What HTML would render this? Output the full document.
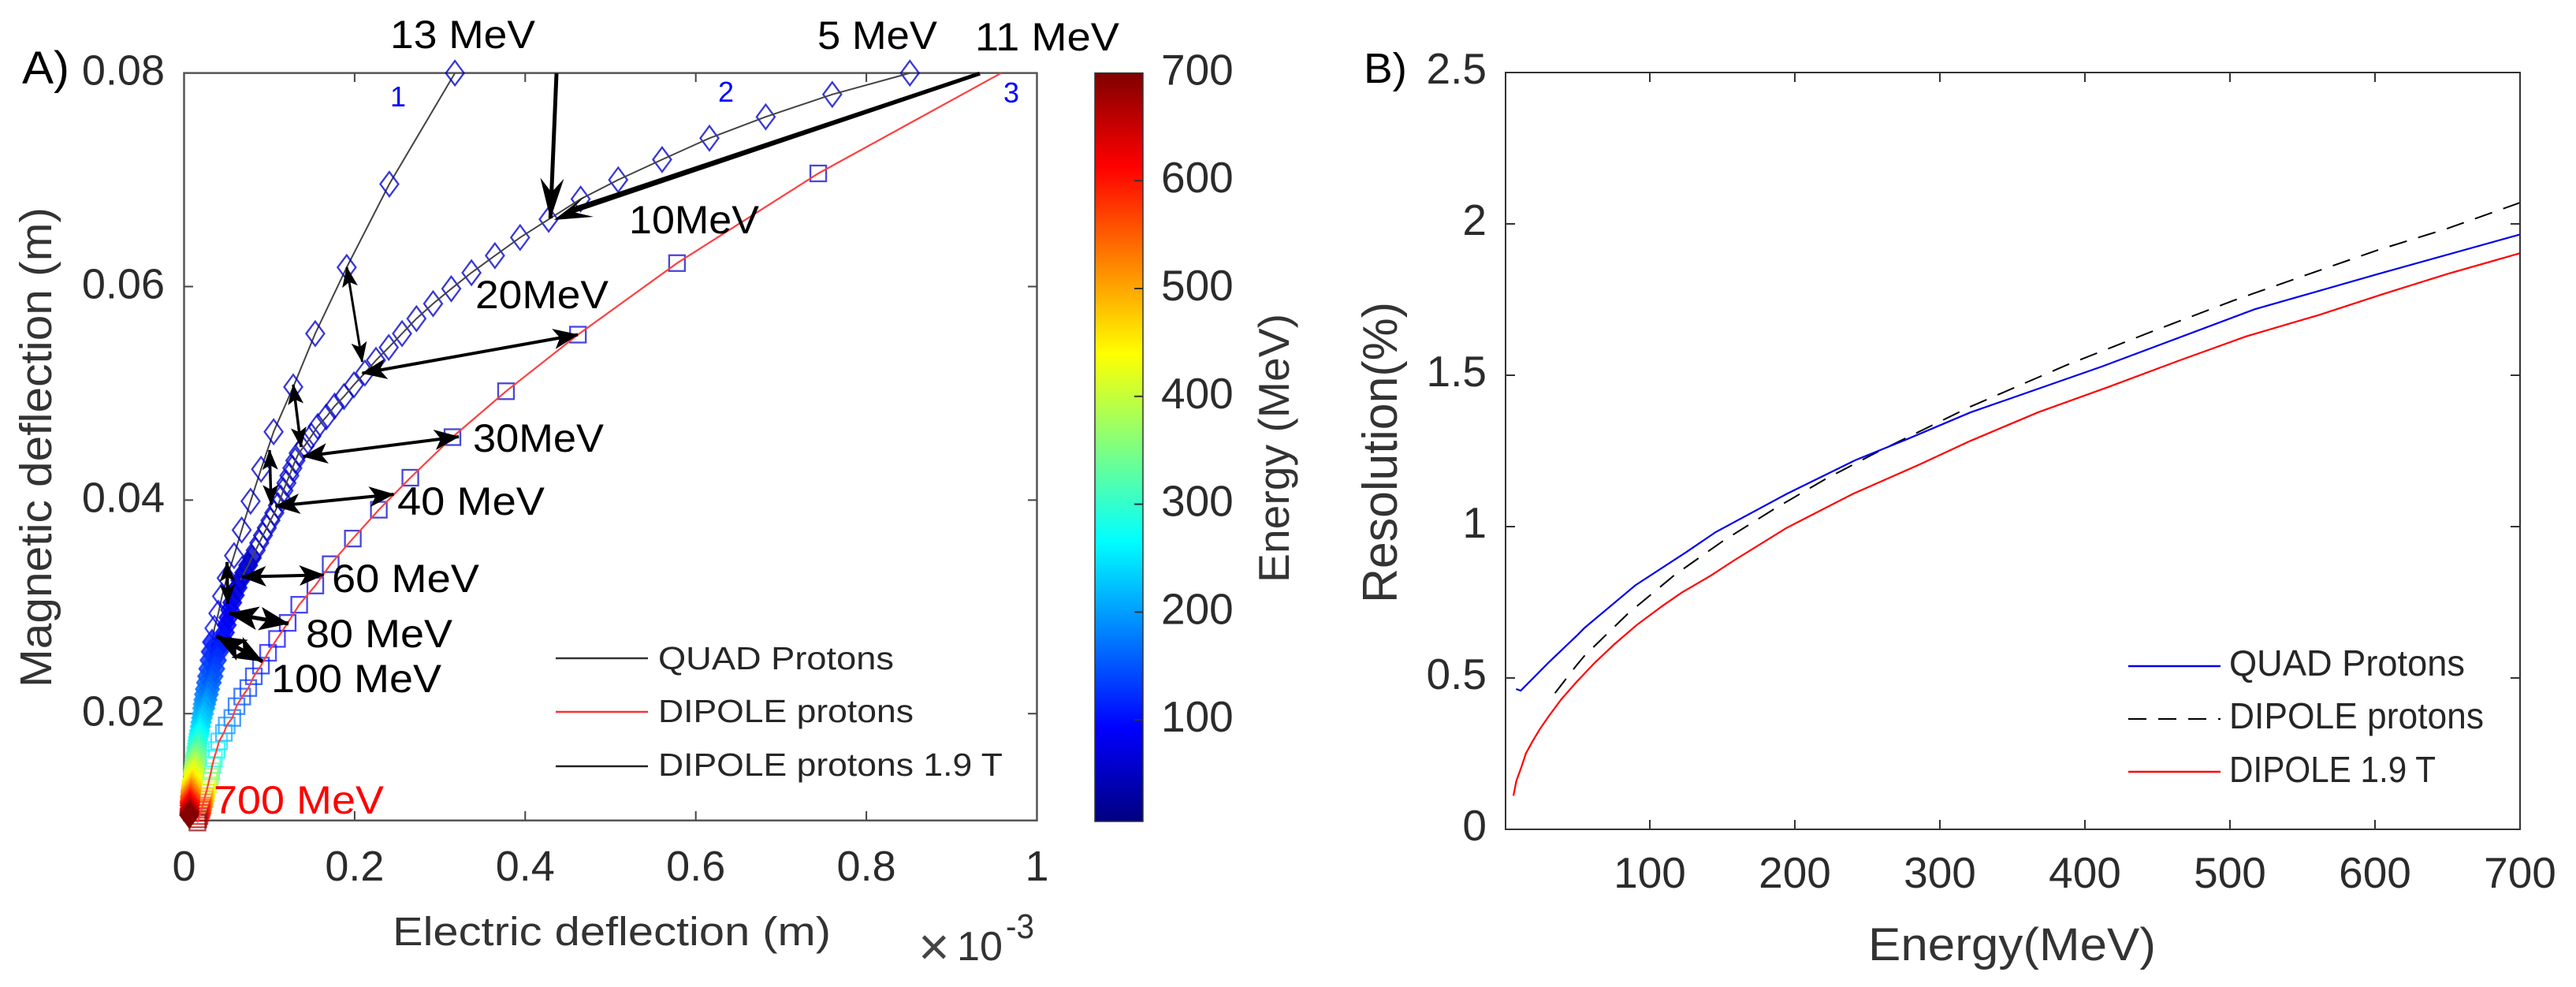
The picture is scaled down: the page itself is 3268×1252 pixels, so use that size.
<!DOCTYPE html>
<html lang="en">
<head>
<meta charset="utf-8">
<title>Deflection and resolution charts</title>
<style>
html,body{margin:0;padding:0;background:#fff;width:3268px;height:1252px;overflow:hidden}
svg{display:block}
text{font-family:"Liberation Sans",sans-serif}
.an{font-size:50px;fill:#000}
.blue{font-size:36px;fill:#0000ff}
.lab{fill:#333}
.leg{fill:#262626}
</style>
</head>
<body>
<svg id="fig" xmlns="http://www.w3.org/2000/svg" width="3268" height="1252" viewBox="0 0 3268 1252">
<defs>
<linearGradient id="jet" x1="0" y1="1" x2="0" y2="0">
<stop offset="0" stop-color="#000080"/><stop offset="0.125" stop-color="#0000ff"/><stop offset="0.375" stop-color="#00ffff"/><stop offset="0.625" stop-color="#ffff00"/><stop offset="0.875" stop-color="#ff0000"/><stop offset="1" stop-color="#800000"/>
</linearGradient>
<marker id="headL" markerUnits="userSpaceOnUse" markerWidth="32" markerHeight="26" viewBox="0 0 32 26" refX="31" refY="13" orient="auto-start-reverse"><path d="M32 13 L0 0 L8 13 L0 26 Z" fill="#000"/></marker>
<marker id="headS" markerUnits="userSpaceOnUse" markerWidth="26" markerHeight="20" viewBox="0 0 26 20" refX="25" refY="10" orient="auto-start-reverse"><path d="M26 10 L0 0 L6 10 L0 20 Z" fill="#000"/></marker>
<marker id="headB" markerUnits="userSpaceOnUse" markerWidth="38" markerHeight="30" viewBox="0 0 38 30" refX="37" refY="15" orient="auto-start-reverse"><path d="M38 15 L0 0 L9 15 L0 30 Z" fill="#000"/></marker>
<marker id="headT" markerUnits="userSpaceOnUse" markerWidth="52" markerHeight="30" viewBox="0 0 52 30" refX="51" refY="15" orient="auto-start-reverse"><path d="M52 15 L0 0 L18 15 L0 30 Z" fill="#000"/></marker>
</defs>

<g id="panelA">
<rect x="233.5" y="92.6" width="1082" height="948" fill="#fff"/>
<path d="M233.5 92.6H1315.5V1040.7H233.5Z" fill="none" stroke="#555" stroke-width="2.5"/>
<g id="ticksA"></g>
<g id="marksA"></g>
</g>

<g stroke="#000" fill="none">
<line x1="706" y1="93" x2="698.3" y2="277" stroke-width="5" marker-end="url(#headT)"/>
<polygon points="1244,95.5 1242,91 721.8,264.5 724.2,271.5" fill="#000" stroke="none"/>
<polygon points="702.7,279 753,275 723,268 743,248" fill="#000" stroke="none"/>
<line x1="440" y1="339" x2="459.5" y2="459" stroke-width="3" marker-start="url(#headS)" marker-end="url(#headS)"/>
<line x1="459.5" y1="473.5" x2="733" y2="424.5" stroke-width="4" marker-start="url(#headL)" marker-end="url(#headL)"/>
<line x1="342" y1="571" x2="344" y2="640" stroke-width="3.5" marker-start="url(#headS)" marker-end="url(#headS)"/>
<line x1="372" y1="488" x2="382" y2="567" stroke-width="3.5" marker-start="url(#headS)" marker-end="url(#headS)"/>
<line x1="384.5" y1="579" x2="582" y2="554" stroke-width="4" marker-start="url(#headL)" marker-end="url(#headL)"/>
<line x1="349.4" y1="642" x2="499.5" y2="627" stroke-width="4" marker-start="url(#headL)" marker-end="url(#headL)"/>
<line x1="288" y1="713" x2="289" y2="766" stroke-width="4" marker-start="url(#headS)" marker-end="url(#headS)"/>
<line x1="306.7" y1="731.7" x2="410.7" y2="729.3" stroke-width="4" marker-start="url(#headL)" marker-end="url(#headL)"/>
<line x1="290.7" y1="778" x2="366" y2="791" stroke-width="5" marker-start="url(#headB)" marker-end="url(#headB)"/>
<line x1="275" y1="807" x2="333" y2="839" stroke-width="5" marker-start="url(#headB)" marker-end="url(#headB)"/>
</g>

<g>
<text class="an" x="495" y="61" textLength="184" lengthAdjust="spacingAndGlyphs">13 MeV</text>
<text class="an" x="1037" y="62" textLength="152" lengthAdjust="spacingAndGlyphs">5 MeV</text>
<text class="an" x="1237" y="64" textLength="183" lengthAdjust="spacingAndGlyphs">11 MeV</text>
<text class="blue" x="495" y="135">1</text>
<text class="blue" x="911" y="129">2</text>
<text class="blue" x="1273" y="130">3</text>
<text class="an" x="798" y="296" textLength="165" lengthAdjust="spacingAndGlyphs">10MeV</text>
<text class="an" x="603" y="391" textLength="169" lengthAdjust="spacingAndGlyphs">20MeV</text>
<text class="an" x="600" y="573" textLength="166" lengthAdjust="spacingAndGlyphs">30MeV</text>
<text class="an" x="504" y="653" textLength="187" lengthAdjust="spacingAndGlyphs">40 MeV</text>
<text class="an" x="421" y="751" textLength="187" lengthAdjust="spacingAndGlyphs">60 MeV</text>
<text class="an" x="388" y="821" textLength="186" lengthAdjust="spacingAndGlyphs">80 MeV</text>
<text class="an" x="344" y="878" textLength="216" lengthAdjust="spacingAndGlyphs">100 MeV</text>
<text class="an" x="271" y="1032" textLength="216" lengthAdjust="spacingAndGlyphs" style="fill:#ff0000">700 MeV</text>
</g>

<g>
<line x1="705" x2="822" y1="835" y2="835" stroke="#333" stroke-width="2.5"/>
<line x1="705" x2="822" y1="903" y2="903" stroke="#ff3030" stroke-width="2.5"/>
<line x1="705" x2="822" y1="972" y2="972" stroke="#222" stroke-width="2.5"/>
<text class="leg" font-size="41" x="835" y="849" textLength="299" lengthAdjust="spacingAndGlyphs">QUAD Protons</text>
<text class="leg" font-size="41" x="835" y="916" textLength="324" lengthAdjust="spacingAndGlyphs">DIPOLE protons</text>
<text class="leg" font-size="41" x="835" y="984" textLength="437" lengthAdjust="spacingAndGlyphs">DIPOLE protons 1.9 T</text>
</g>

<text x="28" y="106" font-size="58" fill="#000" textLength="60" lengthAdjust="spacingAndGlyphs">A)</text>
<text class="lab" x="498" y="1199" font-size="51" textLength="556" lengthAdjust="spacingAndGlyphs">Electric deflection (m)</text>
<text class="lab" transform="translate(65,872) rotate(-90)" font-size="57" textLength="609" lengthAdjust="spacingAndGlyphs">Magnetic deflection (m)</text>
<g>
<text x="1165" y="1224" font-size="68" fill="#444">×</text>
<text x="1214" y="1218" font-size="52" fill="#333" textLength="58" lengthAdjust="spacingAndGlyphs">10</text>
<text x="1276" y="1190" font-size="44" fill="#333" textLength="36" lengthAdjust="spacingAndGlyphs">-3</text>
</g>

<g>
<rect x="1389" y="92.6" width="61" height="949.4" fill="url(#jet)" stroke="#333" stroke-width="1.5"/>
<g id="ticksC"></g>
<text class="lab" transform="translate(1635,739) rotate(-90)" font-size="55" textLength="341" lengthAdjust="spacingAndGlyphs">Energy (MeV)</text>
</g>

<g id="panelB">
<g id="linesB"></g>
<path d="M1910 92H3197V1052H1910Z" fill="none" stroke="#333" stroke-width="2"/>
<g id="ticksB"></g>
<text x="1730" y="105" font-size="54" fill="#000" textLength="55" lengthAdjust="spacingAndGlyphs">B)</text>
<text class="lab" x="2370" y="1218" font-size="58" textLength="365" lengthAdjust="spacingAndGlyphs">Energy(MeV)</text>
<text class="lab" transform="translate(1772,765) rotate(-90)" font-size="62" textLength="382" lengthAdjust="spacingAndGlyphs">Resolution(%)</text>
<g>
<line x1="2700" x2="2817" y1="845" y2="845" stroke="#0000ee" stroke-width="2.5"/>
<line x1="2700" x2="2817" y1="912" y2="912" stroke="#000" stroke-width="2" stroke-dasharray="23 15"/>
<line x1="2700" x2="2817" y1="979" y2="979" stroke="#ff0000" stroke-width="2.5"/>
<text class="leg" font-size="46" x="2828" y="857" textLength="299" lengthAdjust="spacingAndGlyphs">QUAD Protons</text>
<text class="leg" font-size="46" x="2828" y="924" textLength="323" lengthAdjust="spacingAndGlyphs">DIPOLE protons</text>
<text class="leg" font-size="46" x="2828" y="992" textLength="262" lengthAdjust="spacingAndGlyphs">DIPOLE 1.9 T</text>
</g>
</g>
</svg>

<script>
// ---------- Panel A data ----------
var curve1UpperEnergy = [13,17,20,25,30,36,42,48,55,62,70,78,86,95,100];
var curve1UpperElectric = [.3176,.2407,.1907,.1538,.128,.105,.0903,.078,.0676,.0586,.05,.0445,.0402,.0356,.0328];
var curve1UpperMagnetic = [.08,.0696,.0618,.0556,.0506,.0464,.0429,.0399,.0372,.0348,.0327,.031,.0294,.028,.0267];

var curve2UpperEnergy = [5,5.6,6.2,6.9,7.6,8.3,9.1,9.9,10.8,11.7,12.6,13.6,14.6,15.6,16.6,17.7,18.9,20,21.3,22.7,24,25.5,27,28.5,30,32,33,34,35,36,37,38,39,41,42,44,45,47,49,51,54,57,60,63,66,70,74,78,83,89,95,100];
var curve2UpperElectric = [.851,.76,.682,.616,.5605,.509,.465,.4275,.394,.3645,.337,.3133,.292,.2725,.2556,.24,.225,.212,.1992,.1875,.1765,.1668,.1567,.1493,.1415,.1344,.1305,.127,.1235,.12,.1165,.1133,.11,.1058,.1013,.097,.0925,.0882,.084,.0795,.0752,.0705,.066,.0627,.0595,.0565,.054,.052,.05,.0478,.0455,.043];
var curve2UpperMagnetic = [.08,.078,.0759,.0739,.0719,.07,.0682,.0663,.0646,.0629,.0613,.0598,.0584,.057,.0556,.0543,.0531,.0519,.0508,.0497,.0488,.0478,.0469,.046,.0451,.0444,.0437,.043,.0423,.0416,.0409,.0402,.0395,.0388,.0381,.0374,.0367,.036,.0353,.0346,.0339,.0332,.0325,.0318,.0311,.0304,.0297,.029,.0283,.0276,.027,.0264];

var denseEnergy = [110,120,130,140,150,160,170,180,190,200,210,220,230,240,250,260,270,280,290,300,310,320,330,340,350,360,370,380,390,400,410,420,430,440,450,460,470,480,490,500,510,520,530,540,550,560,570,580,590,600,620,640,660,680,700];
var denseMagnetic = [.0258,.025,.0242,.0235,.0229,.0223,.0218,.0213,.0209,.0205,.02,.0196,.0192,.0188,.0184,.0181,.0178,.0175,.0172,.0169,.0167,.0164,.0162,.016,.0157,.0155,.0153,.0151,.0149,.0147,.0145,.0143,.0139,.0137,.0136,.0134,.0132,.0131,.0129,.0128,.0127,.0126,.0124,.0123,.0122,.0121,.0119,.0118,.0117,.0116,.0114,.0111,.0109,.0107,.0105];
var curve1DenseElectric = [.0313,.0299,.0284,.0271,.0258,.0244,.0234,.0227,.022,.0213,.0205,.0199,.0191,.0183,.0175,.0168,.0161,.0155,.015,.0145,.0142,.0137,.0133,.0129,.0124,.0121,.0118,.0114,.0111,.0107,.0104,.0101,.0094,.0091,.0089,.0086,.0083,.0081,.0078,.0077,.0076,.0075,.0073,.0072,.0071,.007,.0069,.0068,.0067,.0066,.0065,.0064,.0063,.0061,.006];
var curve2DenseElectric = [.041,.0385,.0365,.0345,.0325,.0305,.029,.0275,.026,.025,.0235,.022,.021,.02,.019,.0183,.0177,.017,.0165,.016,.0156,.0151,.0146,.0142,.0137,.0134,.013,.0126,.0123,.0119,.0115,.0111,.0105,.0102,.0099,.0096,.0093,.009,.0087,.0085,.0083,.0082,.008,.0078,.0077,.0076,.0074,.0073,.0072,.0071,.0069,.0068,.0066,.0065,.0064];

var curve3TopElectric = [.958];
var curve3TopMagnetic = [.08];
var curve3Energy = [13,16,20,25,30,36,42,48,55,62,70,80,88,97,105,116,126,139,155,168,190,205,235,255,275,300,325,350,375,400,425,450,475,500,525,550,575,600,625,650,675,700];
var curve3Electric = [.7436,.578,.4618,.3775,.3147,.2653,.2284,.1979,.1719,.1539,.135,.1215,.109,.0985,.0902,.0818,.0753,.0682,.0615,.0566,.05,.0467,.041,.0383,.0351,.0332,.0318,.0303,.0292,.028,.0268,.0258,.0248,.0238,.0228,.0218,.021,.0203,.0192,.0181,.0168,.0157];
var curve3Magnetic = [.0706,.0622,.0555,.0502,.0459,.0421,.0391,.0364,.034,.032,.0302,.0285,.027,.0257,.0245,.0235,.0224,.0216,.0207,.0196,.0189,.0182,.0174,.0166,.0158,.0152,.0146,.0141,.0137,.0133,.0129,.0126,.0123,.012,.0117,.0114,.0112,.011,.0107,.0104,.0101,.0098];

var xTicksA = [0,0.2,0.4,0.6,0.8,1];
var xTickLabelsA = ['0','0.2','0.4','0.6','0.8','1'];
var yTicksA = [0.02,0.04,0.06,0.08];
var yTickLabelsA = ['0.02','0.04','0.06','0.08'];
var colorbarTicks = [100,200,300,400,500,600,700];
var colorbarTickLabels = ['100','200','300','400','500','600','700'];

// ---------- Panel B data ----------
var quadEnergy = [7.8,11,30,49.5,54.9,90,125.5,145.5,194.4,241.5,276,321,411.8,517,604,700];
var quadResolution = [.4635,.458,.55,.639,.665,.806,.917,.982,1.108,1.219,1.286,1.377,1.529,1.718,1.837,1.965];
var dipoleEnergy = [34.6,49.5,54.9,84.8,116.5,150,185,220.7,257,294,321,388,446,503,562,601,650,700];
var dipoleResolution = [.45,.542,.573,.712,.838,.951,1.056,1.156,1.247,1.333,1.396,1.535,1.644,1.748,1.847,1.912,1.985,2.07];
var dipole19Energy = [6,8,11.4,14.5,18.7,24,30.4,39,49.5,62,75.7,91,109,122,142,158,194,240,285,321,368,415,464,511,562,604,650,700];
var dipole19Resolution = [.111,.16,.205,.25,.287,.33,.374,.43,.487,.55,.612,.675,.739,.782,.838,.888,.995,1.108,1.203,1.283,1.378,1.459,1.547,1.628,1.70,1.766,1.835,1.903];
var xTicksB = [100,200,300,400,500,600,700];
var xTickLabelsB = ['100','200','300','400','500','600','700'];
var yTicksB = [0,0.5,1,1.5,2,2.5];
var yTickLabelsB = ['0','0.5','1','1.5','2','2.5'];

// ---------- Axis functions ----------
function xA(v){ return 233.5 + v*1082; }
function yA(m){ return 1040.7 - (m-0.01)*13543; }
function xB(e){ return 1909 + e*1.84; }
function yB(r){ return 1052 - r*384; }
function yC(e){ return 1050 - e*1.368; }

var NS = 'http://www.w3.org/2000/svg';
function svgEl(tag, parent){
  var el = document.createElementNS(NS, tag);
  parent.appendChild(el);
  return el;
}
function jet(e){
  var t = e/700;
  function f(a){ return Math.max(0,Math.min(1,1.5-Math.abs(4*t-a))); }
  var r = f(3), g = f(2), b = f(1);
  if (t < 0.125) { b = Math.max(b, 0.8); }
  return 'rgb('+Math.round(255*r)+','+Math.round(255*g)+','+Math.round(255*b)+')';
}
function pointsOf(xs, ys, fx, fy){
  var out = [];
  for (var i=0;i<xs.length;i++){ out.push(fx(xs[i]).toFixed(1)+','+fy(ys[i]).toFixed(1)); }
  return out.join(' ');
}

var marksA = document.getElementById('marksA');

function drawDiamonds(energy, elec, mag, name, fillFrom){
  for (var i=0;i<energy.length;i++){
    var cx = xA(elec[i]), cy = yA(mag[i]);
    var d = svgEl('polygon', marksA);
    
    
    d.setAttribute('points', cx+','+(cy-15.5)+' '+(cx+11.5)+','+cy+' '+cx+','+(cy+15.5)+' '+(cx-11.5)+','+cy);
    if (energy[i] >= fillFrom) {
      d.setAttribute('fill', jet(energy[i]));
      d.setAttribute('fill-opacity', '0.8');
    } else {
      d.setAttribute('fill', 'none');
    }
    d.setAttribute('stroke', jet(energy[i]));
    d.setAttribute('stroke-width', '2.3');
    d.setAttribute('stroke-opacity', '0.78');
  }
}
function drawSquares(energy, elec, mag, name){
  for (var i=0;i<energy.length;i++){
    var s = svgEl('rect', marksA);
    
    
    s.setAttribute('x', xA(elec[i])-10);
    s.setAttribute('y', yA(mag[i])-10);
    s.setAttribute('width', 20);
    s.setAttribute('height', 20);
    s.setAttribute('fill', 'none');
    s.setAttribute('stroke', jet(energy[i]));
    s.setAttribute('stroke-width', '2.3');
    s.setAttribute('stroke-opacity', '0.72');
  }
}

var curve1Energy = curve1UpperEnergy.concat(denseEnergy);
var curve1Electric = curve1UpperElectric.concat(curve1DenseElectric);
var curve1Magnetic = curve1UpperMagnetic.concat(denseMagnetic);
var curve2Energy = curve2UpperEnergy.concat(denseEnergy);
var curve2Electric = curve2UpperElectric.concat(curve2DenseElectric);
var curve2Magnetic = curve2UpperMagnetic.concat(denseMagnetic);

drawSquares(curve3Energy, curve3Electric, curve3Magnetic, 'dipole-marker');

var line1 = svgEl('polyline', marksA);


line1.setAttribute('points', pointsOf(curve1Electric, curve1Magnetic, xA, yA));
line1.setAttribute('fill', 'none');
line1.setAttribute('stroke', '#444');
line1.setAttribute('stroke-width', '2');

drawDiamonds(curve1Energy, curve1Electric, curve1Magnetic, 'quad-steep-marker', 100);
drawDiamonds(curve2Energy, curve2Electric, curve2Magnetic, 'quad-mid-marker', 50);

var line2 = svgEl('polyline', marksA);


line2.setAttribute('points', pointsOf(curve2UpperElectric.slice(0,43), curve2UpperMagnetic.slice(0,43), xA, yA));
line2.setAttribute('fill', 'none');
line2.setAttribute('stroke', '#444');
line2.setAttribute('stroke-width', '2');

var line3 = svgEl('polyline', marksA);


line3.setAttribute('points', pointsOf(curve3TopElectric.concat(curve3Electric), curve3TopMagnetic.concat(curve3Magnetic), xA, yA));
line3.setAttribute('fill', 'none');
line3.setAttribute('stroke', '#ff4040');
line3.setAttribute('stroke-width', '2.2');

// ---------- Panel A ticks ----------
var ticksA = document.getElementById('ticksA');
function tickPath(parent, d, color, name){
  var p = svgEl('path', parent);
  
  
  p.setAttribute('d', d);
  p.setAttribute('stroke', color);
  p.setAttribute('stroke-width', '2');
  p.setAttribute('fill', 'none');
}
function tickText(parent, x, y, str, anchor, size, name){
  var t = svgEl('text', parent);
  
  
  t.setAttribute('x', x);
  t.setAttribute('y', y);
  t.setAttribute('text-anchor', anchor);
  t.setAttribute('font-size', size);
  t.setAttribute('fill', '#2b2b2b');
  t.textContent = str;
}
xTicksA.forEach(function(v,i){
  var x = xA(v);
  if (v>0 && v<1) tickPath(ticksA, 'M'+x+' 1040V1029M'+x+' 93V104', '#444', 'x-tick-a');
  tickText(ticksA, x, 1117, xTickLabelsA[i], 'middle', 54, 'x-tick-label-a');
});
yTicksA.forEach(function(m,i){
  var y = yA(m);
  if (m<0.08) tickPath(ticksA, 'M234 '+y+'H245M1315 '+y+'H1304', '#444', 'y-tick-a');
  tickText(ticksA, 209, y+15, yTickLabelsA[i], 'end', 54, 'y-tick-label-a');
});

// ---------- Colorbar ticks ----------
var ticksC = document.getElementById('ticksC');
colorbarTicks.forEach(function(e,i){
  var y = yC(e);
  if (e<700) tickPath(ticksC, 'M1450 '+y+'H1439', '#333', 'colorbar-tick');
  tickText(ticksC, 1473, y+15, colorbarTickLabels[i], 'start', 55, 'colorbar-tick-label');
});

// ---------- Panel B ----------
var linesB = document.getElementById('linesB');

var dipole19Line = svgEl('polyline', linesB);


dipole19Line.setAttribute('points', pointsOf(dipole19Energy, dipole19Resolution, xB, yB));
dipole19Line.setAttribute('fill', 'none');
dipole19Line.setAttribute('stroke', '#ff0000');
dipole19Line.setAttribute('stroke-width', '2.2');

var dipoleLine = svgEl('polyline', linesB);


dipoleLine.setAttribute('points', pointsOf(dipoleEnergy, dipoleResolution, xB, yB));
dipoleLine.setAttribute('fill', 'none');
dipoleLine.setAttribute('stroke', '#000');
dipoleLine.setAttribute('stroke-width', '2');
dipoleLine.setAttribute('stroke-dasharray', '23 15');

var quadLine = svgEl('polyline', linesB);


quadLine.setAttribute('points', pointsOf(quadEnergy, quadResolution, xB, yB));
quadLine.setAttribute('fill', 'none');
quadLine.setAttribute('stroke', '#0000ee');
quadLine.setAttribute('stroke-width', '2.2');

var ticksB = document.getElementById('ticksB');
xTicksB.forEach(function(e,i){
  var x = xB(e);
  if (e<700) tickPath(ticksB, 'M'+x+' 1052V1040M'+x+' 92V104', '#333', 'x-tick-b');
  tickText(ticksB, x, 1126, xTickLabelsB[i], 'middle', 55, 'x-tick-label-b');
});
yTicksB.forEach(function(r,i){
  var y = yB(r);
  if (r>0 && r<2.5) tickPath(ticksB, 'M1910 '+y+'H1922M3197 '+y+'H3185', '#333', 'y-tick-b');
  tickText(ticksB, 1886, y+14, yTickLabelsB[i], 'end', 55, 'y-tick-label-b');
});
</script>
</body>
</html>
